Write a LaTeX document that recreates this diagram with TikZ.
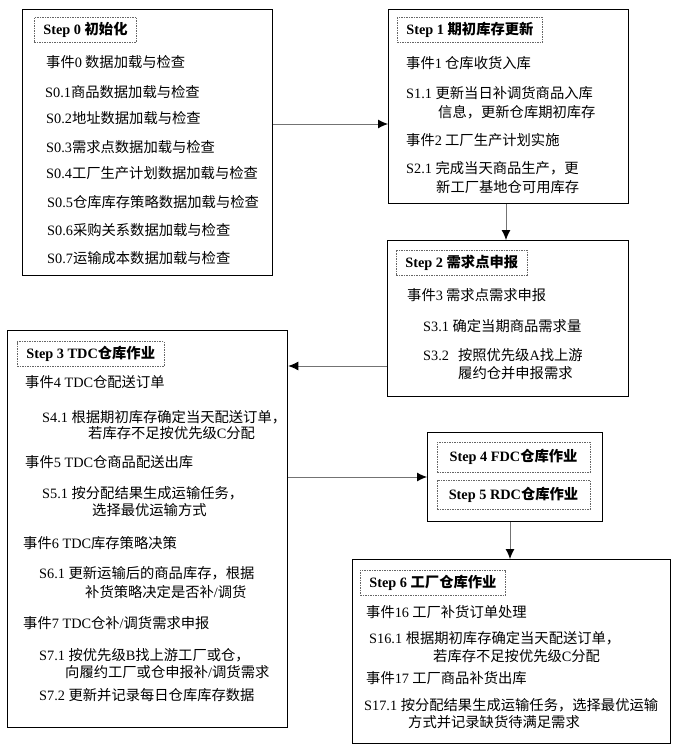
\documentclass[tikz,border=0pt]{standalone}
\usepackage{fontspec}
\setmainfont{Noto Sans CJK SC}
\newfontfamily\latfont{Liberation Serif}
\newcommand\ltn[1]{{\latfont #1}}
\newcommand\myfs{\fontsize{14.3pt}{17pt}\selectfont}
\usetikzlibrary{arrows.meta}
\tikzset{
  box/.style={draw=black, line width=1.3pt, inner sep=0pt, anchor=north west},
  ttl/.style={draw=black!60, dash pattern=on 1.5pt off 1pt, line width=0.7pt, anchor=west, inner xsep=9pt, inner ysep=0pt, minimum height=25pt, font=\myfs\bfseries},
  txt/.style={anchor=west, inner sep=0pt, font=\myfs},
  arr/.style={draw=black!55, line width=0.9pt, -{Latex[length=10pt,width=9pt,black]}},
}
\begin{document}
\begin{tikzpicture}[x=1pt,y=-1pt]
\useasboundingbox (0,0) rectangle (677,751);
% boxes
\node[box, minimum width=250pt, minimum height=266pt] (b0) at (22,9) {};
\node[box, minimum width=240pt, minimum height=194pt] (b1) at (388,9) {};
\node[box, minimum width=241pt, minimum height=156pt] (b2) at (387,240) {};
\node[box, minimum width=280pt, minimum height=397pt] (b3) at (7,330) {};
\node[box, minimum width=175pt, minimum height=89pt] (b4) at (427,432) {};
\node[box, minimum width=318pt, minimum height=184pt] (b6) at (352,559) {};
% titles
\node[ttl] (h0) at (34,29.5) {\ltn{Step 0 }初始化};
\node[ttl] (h1) at (397,30) {\ltn{Step 1 }期初库存更新};
\node[ttl] (h2) at (396,262.5) {\ltn{Step 2 }需求点申报};
\node[ttl] (h3) at (17,354) {\ltn{Step 3 TDC}仓库作业};
\node[ttl, anchor=center, minimum width=153pt, minimum height=30pt] (h4) at (513.5,457) {\ltn{Step 4 FDC}仓库作业};
\node[ttl, anchor=center, minimum width=153pt, minimum height=29pt] (h5) at (513.5,494.5) {\ltn{Step 5 RDC}仓库作业};
\node[ttl] (h6) at (360,582.5) {\ltn{Step 6 }工厂仓库作业};
% box 0 text
\node[txt] (e0) at (46,62) {事件\ltn{0} 数据加载与检查};
\node[txt] (s01) at (45,92) {\ltn{S0.1}商品数据加载与检查};
\node[txt] (s02) at (46,118) {\ltn{S0.2}地址数据加载与检查};
\node[txt] (s03) at (46,147) {\ltn{S0.3}需求点数据加载与检查};
\node[txt] (s04) at (46,173) {\ltn{S0.4}工厂生产计划数据加载与检查};
\node[txt] (s05) at (47,202) {\ltn{S0.5}仓库库存策略数据加载与检查};
\node[txt] (s06) at (47,230) {\ltn{S0.6}采购关系数据加载与检查};
\node[txt] (s07) at (47,258) {\ltn{S0.7}运输成本数据加载与检查};
% box 1 text
\node[txt] (e1) at (406,63) {事件\ltn{1} 仓库收货入库};
\node[txt] (s11a) at (406,93) {\ltn{S1.1 }更新当日补调货商品入库};
\node[txt] (s11b) at (438,112) {信息，更新仓库期初库存};
\node[txt] (e2) at (406,140) {事件\ltn{2} 工厂生产计划实施};
\node[txt] (s21a) at (406,168) {\ltn{S2.1 }完成当天商品生产，更};
\node[txt] (s21b) at (436,187) {新工厂基地仓可用库存};
% box 2 text
\node[txt] (e3) at (407,295) {事件\ltn{3} 需求点需求申报};
\node[txt] (s31) at (423,326) {\ltn{S3.1 }确定当期商品需求量};
\node[txt] (s32a) at (423,355) {\ltn{S3.2}\hspace{9pt}按照优先级\ltn{A}找上游};
\node[txt] (s32b) at (458,373) {履约仓并申报需求};
% box 3 text
\node[txt] (e4) at (25,382) {事件\ltn{4 TDC}仓配送订单};
\node[txt] (s41a) at (42,417) {\ltn{S4.1 }根据期初库存确定当天配送订单，};
\node[txt] (s41b) at (88,433) {若库存不足按优先级\ltn{C}分配};
\node[txt] (e5) at (25,462) {事件\ltn{5 TDC}仓商品配送出库};
\node[txt] (s51a) at (42,493) {\ltn{S5.1 }按分配结果生成运输任务，};
\node[txt] (s51b) at (92,510) {选择最优运输方式};
\node[txt] (e6) at (23,543) {事件\ltn{6 TDC}库存策略决策};
\node[txt] (s61a) at (39,573) {\ltn{S6.1 }更新运输后的商品库存，根据};
\node[txt] (s61b) at (85,592) {补货策略决定是否补\ltn{/}调货};
\node[txt] (e7) at (23,623) {事件\ltn{7 TDC}仓补\ltn{/}调货需求申报};
\node[txt] (s71a) at (39,655) {\ltn{S7.1 }按优先级\ltn{B}找上游工厂或仓，};
\node[txt] (s71b) at (65,672) {向履约工厂或仓申报补\ltn{/}调货需求};
\node[txt] (s72) at (39,695) {\ltn{S7.2 }更新并记录每日仓库库存数据};
% box 6 text
\node[txt] (e16) at (366,612) {事件\ltn{16} 工厂补货订单处理};
\node[txt] (s161a) at (369,638) {\ltn{S16.1 }根据期初库存确定当天配送订单，};
\node[txt] (s161b) at (433,656) {若库存不足按优先级\ltn{C}分配};
\node[txt] (e17) at (366,678) {事件\ltn{17} 工厂商品补货出库};
\node[txt] (s171a) at (364,705) {\ltn{S17.1 }按分配结果生成运输任务，选择最优运输};
\node[txt] (s171b) at (408,722) {方式并记录缺货待满足需求};
% connectors
\coordinate (y01) at (0,124);
\coordinate (x12) at (506,0);
\coordinate (y23) at (0,366);
\coordinate (y34) at (0,477);
\coordinate (x46) at (510,0);
\draw[arr] (b0.east |- y01) -- (b1.west |- y01);
\draw[arr] (b1.south -| x12) -- (b2.north -| x12);
\draw[arr] (b2.west |- y23) -- (b3.east |- y23);
\draw[arr] (b3.east |- y34) -- (b4.west |- y34);
\draw[arr] (b4.south -| x46) -- (b6.north -| x46);
\end{tikzpicture}
\end{document}
